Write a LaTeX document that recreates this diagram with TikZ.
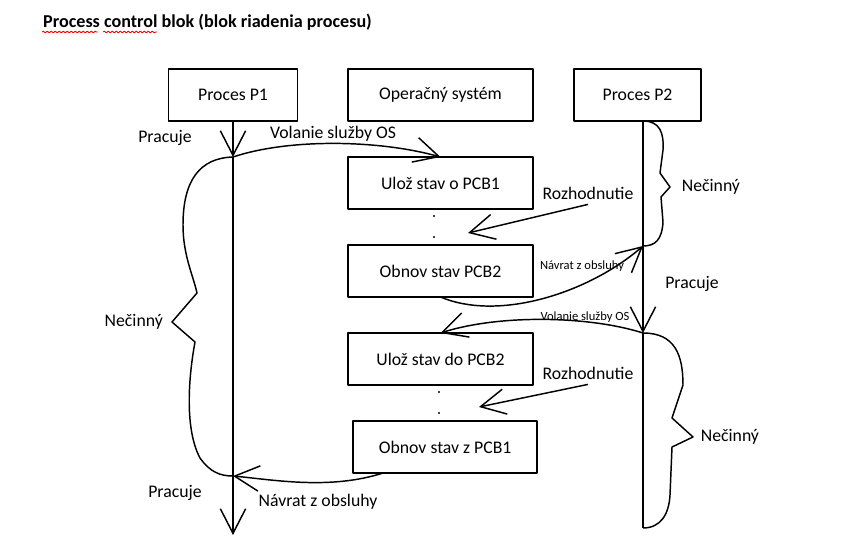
\documentclass[tikz,border=0pt]{standalone}
\usepackage{fontspec}
\setmainfont{Carlito}
\usetikzlibrary{positioning, arrows.meta, decorations.pathmorphing}

\begin{document}
\begin{tikzpicture}[x=0.75pt, y=-0.75pt, node distance=27pt, line width=1.1pt, line join=round,
  font=\fontsize{13.3}{16}\selectfont,
  box/.style={draw, outer sep=0pt, minimum height=39pt},
  arr/.style={-{Straight Barb[length=18.5pt, width=19pt]}},
  small/.style={font=\fontsize{9.4}{11}\selectfont},
  squiggle/.style={red, line width=0.6pt, decorate, decoration={snake, amplitude=0.7pt, segment length=3pt}}]
  \useasboundingbox (0,0) rectangle (854,546);

  \node[font=\fontsize{13.6}{16}\selectfont\bfseries] (title) at (207.5,22) {Process control blok (blok riadenia procesu)};
  \draw[squiggle] (42,32) -- (98,32);
  \draw[squiggle] (103,32) -- (157,32);

  \node[box, minimum width=96.75pt]  (p1) at (233,95)   {Proces P1};
  \node[box, minimum width=138.75pt] (os) at (440.5,95) {Operačný systém};
  \node[box, minimum width=95.25pt]  (p2) at (637.5,95) {Proces P2};
  \node[box, minimum width=138.75pt, below=of os]     (uloz1)  {Ulož stav o PCB1};
  \node[box, minimum width=138.75pt, below=of uloz1]  (obnov2) {Obnov stav PCB2};
  \node[box, minimum width=138.75pt, below=of obnov2] (uloz2)  {Ulož stav do PCB2};
  \node[box, minimum width=138pt, below=of uloz2, xshift=3.5pt] (obnov1) {Obnov stav z PCB1};

  \coordinate (p1call) at (233,157);
  \coordinate (p1back) at (233,476);
  \coordinate (p1end)  at (233,535);
  \coordinate (p2top)  at (643,121);
  \coordinate (p2back) at (643,246);
  \coordinate (p2call) at (643,333);
  \coordinate (p2end)  at (643,528);
  \coordinate (notch1) at (172,322);
  \coordinate (notch2) at (670,187);
  \coordinate (notch3) at (693,437);
  \coordinate (tip1)   at (468,233);
  \coordinate (tip2)   at (479,407);

  \node (prac1) at (165,138) {Pracuje};
  \node (vol1)  at (333,134) {Volanie služby OS};
  \node (roz1)  at (588,193) {Rozhodnutie};
  \node[small] (nav1) at (582,266) {Návrat z obsluhy};
  \node (prac2) at (692,284) {Pracuje};
  \node[small] (vol2) at (585,317) {Volanie služby OS};
  \node (roz2)  at (588,373) {Rozhodnutie};
  \node (prac3) at (175,493) {Pracuje};
  \node (nav2)  at (318,502) {Návrat z obsluhy};
  \node[left=3pt of notch1]  (nec1) {Nečinný};
  \node[right=5pt of notch2] (nec2) {Nečinný};
  \node[right=2pt of notch3] (nec3) {Nečinný};

  \foreach \y in {216,237} \fill (434,\y) circle[radius=0.9pt];
  \foreach \y in {392,413} \fill (439,\y) circle[radius=0.9pt];

  \draw[arr] (p1) -- (p1call);
  \draw (p1call) -- (p1back);
  \draw[arr] (p1back) -- (p1end);
  \draw[arr] (p2top) -- (p2call);
  \draw (p2call) -- (p2end);

  \draw[arr] (p1call) .. controls (290,138) and (380,140) .. (uloz1.north);
  \draw[arr] (obnov2.south) .. controls (500,322) and (590,292) .. (p2back);
  \draw[arr] (p2call) .. controls (590,316) and (500,314) .. (uloz2.north);
  \draw[arr] ([xshift=22.5pt]obnov1.south west) .. controls (330,490) and (275,480) .. (p1back);
  \draw[arr] (roz1.south) -- (tip1);
  \draw[arr] (roz2.south) -- (tip2);

  \draw (p1call) .. controls (200,158) and (183,180) .. (183,225) .. controls (183,255) and (193,275) .. (197,293)
    -- (notch1) -- (195,342) .. controls (188,380) and (185,430) .. (200,458) .. controls (210,472) and (220,476) .. (p1back);
  \draw (p2top) .. controls (660,121) and (664,133) .. (663,150) -- (660,173) -- (notch2) -- (661,197)
    -- (663,222) .. controls (662,240) and (655,246) .. (p2back);
  \draw (p2call) .. controls (675,333) and (683,355) .. (683,385) -- (672,418) -- (notch3) -- (672,447)
    -- (670,495) .. controls (669,515) and (660,528) .. (p2end);
\end{tikzpicture}
\end{document}
